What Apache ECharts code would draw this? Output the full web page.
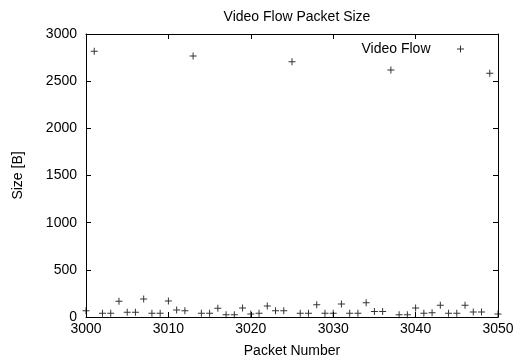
<!DOCTYPE html>
<html>
<head>
<meta charset="utf-8">
<script src="https://cdn.jsdelivr.net/npm/echarts@6/dist/echarts.min.js"></script>
<style>html,body{margin:0;padding:0;background:#fff}#c{width:523px;height:364px}</style>
</head>
<body>
<div id="c"></div>
<script>
var packetNumbers = [3000,3001,3002,3003,3004,3005,3006,3007,3008,3009,3010,3011,3012,3013,3014,3015,3016,3017,3018,3019,3020,3021,3022,3023,3024,3025,3026,3027,3028,3029,3030,3031,3032,3033,3034,3035,3036,3037,3038,3039,3040,3041,3042,3043,3044,3045,3046,3047,3048,3049,3050];
var packetSizes = [67,2817,39,39,166,50,50,191,39,39,170,74,67,2768,39,39,92,25,25,95,32,39,117,67,67,2707,39,39,131,39,39,138,39,39,152,57,57,2619,25,25,95,39,46,124,39,39,124,53,53,2584,32];
var seriesName = 'Video Flow';
var titleText = 'Video Flow Packet Size';
var xName = 'Packet Number';
var yName = 'Size [B]';

var FONT = 'Liberation Sans, Arial, sans-serif';
var plus = 'path://M3,0H4V3H7V4H4V7H3V4H0V3H3Z';
var pts = packetNumbers.map(function (x, i) { return [x, packetSizes[i]]; });
function plain(v) { return String(v); }

function xAx(pos, show) {
  return {
    type: 'value', position: pos, min: 3000, max: 3050, interval: 10,
    name: show ? xName : '', nameLocation: 'middle', nameGap: 27,
    nameTextStyle: { fontFamily: FONT, fontSize: 14, color: '#000' },
    axisLine: { show: true, onZero: false, lineStyle: { color: '#000', width: 1 } },
    axisTick: { show: true, inside: true, length: 5, lineStyle: { color: '#000' } },
    axisLabel: { show: show, margin: 5, fontFamily: FONT, fontSize: 14, color: '#000', formatter: plain },
    splitLine: { show: false }
  };
}
function yAx(pos, show) {
  return {
    type: 'value', position: pos, min: 0, max: 3000, interval: 500,
    name: show ? yName : '', nameLocation: 'middle', nameGap: 61, nameRotate: 90,
    nameTextStyle: { fontFamily: FONT, fontSize: 14, color: '#000' },
    axisLine: { show: true, onZero: false, lineStyle: { color: '#000', width: 1 } },
    axisTick: { show: true, inside: true, length: 5, lineStyle: { color: '#000' } },
    axisLabel: { show: show, margin: 9, fontFamily: FONT, fontSize: 14, color: '#000', formatter: plain },
    splitLine: { show: false }
  };
}

var chart = echarts.init(document.getElementById('c'), null, { renderer: 'canvas' });
chart.setOption({
  animation: false,
  backgroundColor: '#fff',
  title: {
    text: titleText, left: 292, top: 5, textAlign: 'center',
    textStyle: { fontFamily: FONT, fontSize: 14, fontWeight: 'normal', color: '#000' }
  },
  legend: {
    data: [{ name: seriesName, icon: plus }],
    right: 54, top: 37, align: 'right', orient: 'vertical',
    itemWidth: 50, itemHeight: 7, itemGap: 0,
    textStyle: { fontFamily: FONT, fontSize: 14, color: '#000', padding: 0 }
  },
  grid: { left: 86, right: 25, top: 34, bottom: 47, containLabel: false },
  xAxis: [xAx('bottom', true), xAx('top', false)],
  yAxis: [yAx('left', true), yAx('right', false)],
  series: [{
    name: seriesName, type: 'scatter', xAxisIndex: 0, yAxisIndex: 0,
    symbol: plus, symbolSize: 7,
    itemStyle: { color: '#000' },
    data: pts
  }]
});
</script>
</body>
</html>
